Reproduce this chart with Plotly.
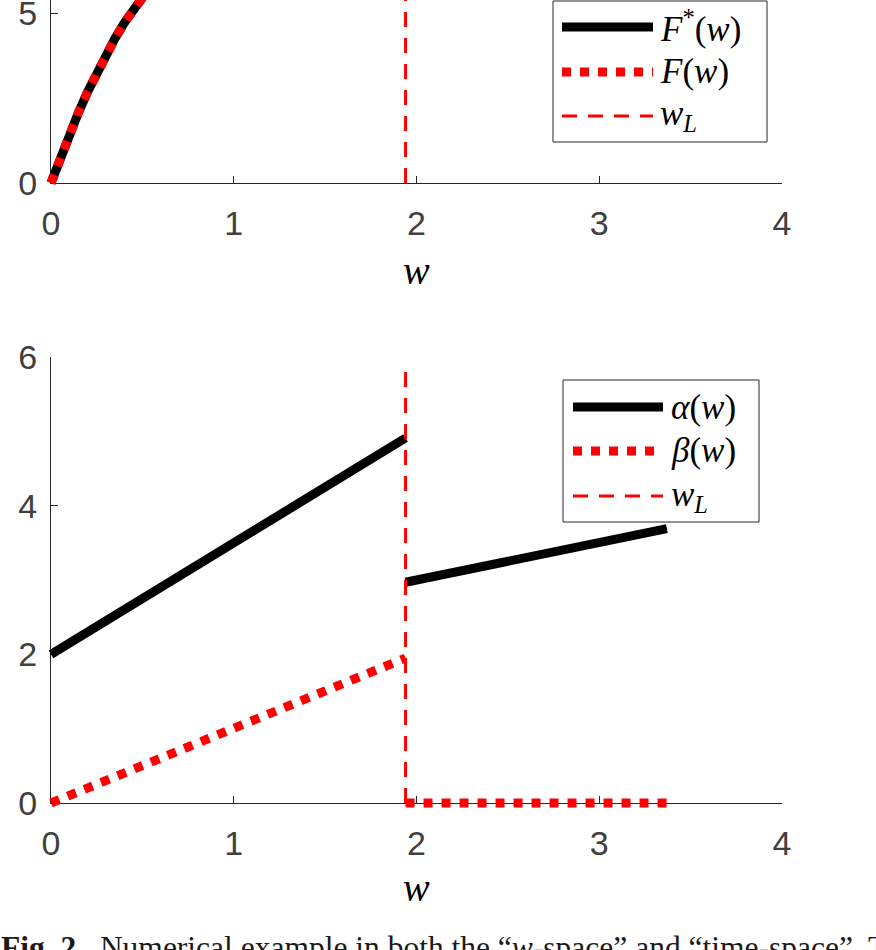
import plotly.graph_objects as go

# ---------------- data ----------------
w_F = [0, 0.05, 0.1, 0.15, 0.2, 0.25, 0.3, 0.35, 0.4, 0.45, 0.5, 0.55, 0.6]
F_star = [0, 0.72, 1.42, 2.07, 2.68, 3.25, 3.77, 4.25, 4.7, 5.1, 5.48, 5.85, 6.2]
F_est = [0, 0.72, 1.42, 2.07, 2.68, 3.25, 3.77, 4.25, 4.7, 5.1, 5.48, 5.85, 6.2]

w_L = 1.94
wL_top_y = [0, 6.5]
wL_bot_y = [0, 5.9]

w_alpha = [0, 1.94, None, 1.94, 3.37]
alpha = [2.0, 4.91, None, 2.97, 3.69]
w_beta = [0, 1.94, None, 1.94, 3.37]
beta = [0, 1.95, None, 0, 0]

x_ticks = [0, 1, 2, 3, 4]
y_ticks_top = [0, 5]
y_ticks_bot = [0, 2, 4, 6]

legend_top = ["<i>F</i><sup>*</sup>(<i>w</i>)", "<i>F</i>(<i>w</i>)", "<i>w</i><sub><i>L</i></sub>"]
legend_bot = ["<i>α</i>(<i>w</i>)", "<i>β</i>(<i>w</i>)", "<i>w</i><sub><i>L</i></sub>"]
caption = ("<b>Fig. 2.</b>  Numerical example in both the “<i>w</i>-space” and "
           "“time-space”. The numerical")

# ---------------- layout geometry (pixels) ----------------
W, H = 876, 950
X0, X1 = 51, 782          # x = 0 .. 4
XR = [0, 4]
TOP_Y0, TOP_Y1 = 183, 0   # pixel of y=0, top pixel
TOP_SCALE = 34.0          # px per unit
TOP_YR = [0, (TOP_Y0 - TOP_Y1) / TOP_SCALE]
BOT_Y0, BOT_Y1 = 803, 357  # y = 0 .. 6
BOT_YR = [0, 6]
PAD = 14

def px(x):
    return x / W

def py(y):
    return 1 - y / H

xs = (X1 - X0) / (XR[1] - XR[0])
bs = (BOT_Y0 - BOT_Y1) / (BOT_YR[1] - BOT_YR[0])

AX_COL = "#262626"
TICK_FONT = dict(family="Liberation Sans, Arial", size=34, color="#404040")
MATH_FONT = "Liberation Serif, Times New Roman, serif"

fig = go.Figure()

# ---- top plot data (on padded data axes x3/y3) ----
fig.add_trace(go.Scatter(x=w_F, y=F_star, mode="lines", xaxis="x3", yaxis="y3",
                         line=dict(color="black", width=9), showlegend=False, hoverinfo="skip"))
fig.add_trace(go.Scatter(x=w_F, y=F_est, mode="lines", xaxis="x3", yaxis="y3",
                         line=dict(color="red", width=9, dash="dot"), showlegend=False, hoverinfo="skip"))
fig.add_trace(go.Scatter(x=[w_L, w_L], y=wL_top_y, mode="lines", xaxis="x3", yaxis="y3",
                         line=dict(color="red", width=3, dash="15px,11px"), showlegend=False, hoverinfo="skip"))

# ---- bottom plot data (on padded data axes x4/y4) ----
fig.add_trace(go.Scatter(x=w_alpha, y=alpha, mode="lines", xaxis="x4", yaxis="y4", connectgaps=False,
                         line=dict(color="black", width=9), showlegend=False, hoverinfo="skip"))
fig.add_trace(go.Scatter(x=w_beta, y=beta, mode="lines", xaxis="x4", yaxis="y4", connectgaps=False,
                         line=dict(color="red", width=9, dash="dot"), showlegend=False, hoverinfo="skip"))
fig.add_trace(go.Scatter(x=[w_L, w_L], y=wL_bot_y, mode="lines", xaxis="x4", yaxis="y4",
                         line=dict(color="red", width=3, dash="15px,11px"), showlegend=False, hoverinfo="skip"))

# dummy traces for visible axes
fig.add_trace(go.Scatter(x=[None], y=[None], xaxis="x", yaxis="y", showlegend=False))
fig.add_trace(go.Scatter(x=[None], y=[None], xaxis="x2", yaxis="y2", showlegend=False))

def vis_x(domain, anchor):
    return dict(domain=domain, anchor=anchor, range=XR, tickvals=x_ticks, ticks="inside",
                ticklen=7, tickwidth=1, tickcolor=AX_COL, showline=True, linecolor=AX_COL,
                linewidth=1, showgrid=False, zeroline=False, tickfont=TICK_FONT,
                ticklabelstandoff=10, fixedrange=True, automargin=False, ticklabeloverflow="allow")

def vis_y(domain, anchor, rng, tv):
    return dict(domain=domain, anchor=anchor, range=rng, tickvals=tv, ticks="inside",
                ticklen=7, tickwidth=1, tickcolor=AX_COL, showline=True, linecolor=AX_COL,
                linewidth=1, showgrid=False, zeroline=False, tickfont=TICK_FONT,
                ticklabelstandoff=6, fixedrange=True, automargin=False, ticklabeloverflow="allow")

def hid(domain, anchor, rng):
    return dict(domain=domain, anchor=anchor, range=rng, visible=False, showgrid=False,
                zeroline=False, fixedrange=True, automargin=False)

xdom = [px(X0), px(X1)]
xdom_pad = [px(X0 - PAD), px(X1 + PAD)]
xr_pad = [XR[0] - PAD / xs, XR[1] + PAD / xs]

fig.update_layout(
    width=W, height=H, margin=dict(l=0, r=0, t=0, b=0, autoexpand=False),
    paper_bgcolor="white", plot_bgcolor="rgba(0,0,0,0)", showlegend=False,
    xaxis=vis_x(xdom, "y"),
    yaxis=vis_y([py(TOP_Y0), 1], "x", TOP_YR, y_ticks_top),
    xaxis2=vis_x(xdom, "y2"),
    yaxis2=vis_y([py(BOT_Y0), py(BOT_Y1)], "x2", BOT_YR, y_ticks_bot),
    xaxis3=hid(xdom_pad, "y3", xr_pad),
    yaxis3=hid([py(TOP_Y0 + PAD), 1], "x3", [TOP_YR[0] - PAD / TOP_SCALE, TOP_YR[1]]),
    xaxis4=hid(xdom_pad, "y4", xr_pad),
    yaxis4=hid([py(BOT_Y0 + PAD), py(BOT_Y1 - PAD)], "x4",
               [BOT_YR[0] - PAD / bs, BOT_YR[1] + PAD / bs]),
)

shapes = []
annotations = []

def legend(box, x_line0, x_line1, x_text, rows, labels):
    l, t, r, b = box
    shapes.append(dict(type="rect", xref="paper", yref="paper", x0=px(l), x1=px(r), y0=py(b), y1=py(t),
                       line=dict(color=AX_COL, width=1), fillcolor="white", layer="above"))
    styles = [dict(color="black", width=9), dict(color="red", width=9, dash="dot"),
              dict(color="red", width=3, dash="15px,11px")]
    for yy, st, lab in zip(rows, styles, labels):
        shapes.append(dict(type="line", xref="paper", yref="paper", x0=px(x_line0), x1=px(x_line1),
                           y0=py(yy), y1=py(yy), line=st, layer="above"))
        annotations.append(dict(xref="paper", yref="paper", x=px(x_text), y=py(yy), xanchor="left",
                                yanchor="middle", text=lab, showarrow=False,
                                font=dict(family=MATH_FONT, size=35, color="black")))

legend((553, 1, 767, 142), 562, 653, 658, [27, 72, 116], legend_top)
legend((563, 380, 759, 522), 573, 663, 669, [407, 451, 496], legend_bot)

# x axis titles
for yy in (270, 887):
    annotations.append(dict(xref="paper", yref="paper", x=px((X0 + X1) / 2), y=py(yy), xanchor="center",
                            yanchor="middle", text="<i>w</i>", showarrow=False,
                            font=dict(family=MATH_FONT, size=40, color="black")))

annotations.append(dict(xref="paper", yref="paper", x=px(-1), y=py(928), xanchor="left", yanchor="top",
                        text=caption, showarrow=False, align="left",
                        font=dict(family=MATH_FONT, size=31.5, color="#1a1a1a")))

fig.update_layout(shapes=shapes, annotations=annotations)
fig.write_html("out.html")
